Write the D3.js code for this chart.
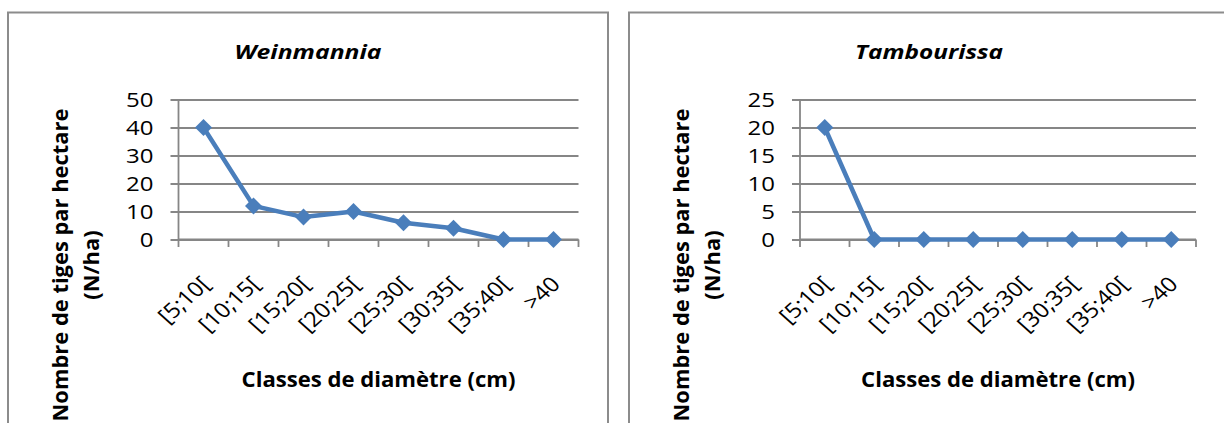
<!DOCTYPE html>
<html>
<head>
<meta charset="utf-8">
<script src="https://cdn.jsdelivr.net/npm/d3@7"></script>
<style>
  html, body { margin: 0; padding: 0; background: #ffffff; }
  svg { display: block; }
  text { font-family: "Open Sans", Lato, "DejaVu Sans", sans-serif; fill: #000; }
</style>
</head>
<body>
<svg id="chart" width="1224" height="423"></svg>
<script>
// ---- data ----
const categories = ["[5;10[", "[10;15[", "[15;20[", "[20;25[", "[25;30[", "[30;35[", "[35;40[", ">40"];
const weinmanniaValues = [40, 12, 8, 10, 6, 4, 0, 0];
const tambourissaValues = [20, 0, 0, 0, 0, 0, 0, 0];
const weinmanniaTicks = [0, 10, 20, 30, 40, 50];
const tambourissaTicks = [0, 5, 10, 15, 20, 25];
const titles = ["Weinmannia", "Tambourissa"];
const xTitle = "Classes de diamètre (cm)";
const yTitleLines = ["Nombre de tiges par hectare", "(N/ha)"];

// ---- layout ----
const svg = d3.select("#chart");
const SX = 1.2;           // horizontal stretch of tick text in the reference
const SXL = 1.12;         // horizontal stretch of rotated category labels
const LINE = "#4a7ebb";
const GRID = "#868686";
const FRAME = "#8c8c8c";

const panels = [
  { frameX: 8,   plotL: 178.5, plotR: 578.5, values: weinmanniaValues,  ticks: weinmanniaTicks,  title: titles[0], titleW: 147 },
  { frameX: 629, plotL: 800,   plotR: 1196,  values: tambourissaValues, ticks: tambourissaTicks, title: titles[1], titleW: 148 }
];
const frameW = 600, frameTop = 12.5;
const plotTop = 99.5, plotBot = 239.5;

function fitX(sel, target) {
  const w = sel.node().getComputedTextLength();
  return target / w;
}

panels.forEach(p => {
  const g = svg.append("g");

  // frame
  g.append("rect")
    .attr("x", p.frameX).attr("y", frameTop)
    .attr("width", frameW).attr("height", 500)
    .attr("fill", "#fff").attr("stroke", FRAME).attr("stroke-width", 2);

  const x = d3.scaleBand().domain(categories).range([p.plotL, p.plotR]).padding(0);
  const y = d3.scaleLinear().domain([0, d3.max(p.ticks)]).range([plotBot, plotTop]);

  // gridlines
  const yAxis = d3.axisLeft(y).tickValues(p.ticks).tickSize(-(p.plotR - p.plotL) - 8).tickFormat("");
  const ya = g.append("g").attr("transform", `translate(${p.plotL - 8},0)`).call(yAxis);
  ya.select(".domain").remove();
  ya.selectAll(".tick line").attr("stroke", GRID).attr("stroke-width", 1.8);

  // y axis vertical line
  g.append("line")
    .attr("x1", p.plotL).attr("x2", p.plotL)
    .attr("y1", y(d3.max(p.ticks))).attr("y2", plotBot)
    .attr("stroke", GRID).attr("stroke-width", 1.8);

  // y tick labels
  g.selectAll(".ylab").data(p.ticks).join("text")
    .attr("class", "ylab")
    .attr("transform", d => `translate(${p.plotL - 25},${y(d)}) scale(${SX},1)`)
    .attr("text-anchor", "end")
    .attr("dy", "0.36em")
    .style("font-size", "20px")
    .text(d => d);

  // x axis with category-boundary ticks
  const bounds = categories.map(c => x(c)).concat([p.plotR]);
  g.append("line")
    .attr("x1", p.plotL).attr("x2", p.plotR)
    .attr("y1", y(0)).attr("y2", y(0))
    .attr("stroke", GRID).attr("stroke-width", 1.8);
  g.selectAll(".xtick").data(bounds).join("line")
    .attr("class", "xtick")
    .attr("x1", d => d).attr("x2", d => d)
    .attr("y1", y(0)).attr("y2", y(0) + 7.5)
    .attr("stroke", GRID).attr("stroke-width", 1.8);

  // x tick labels rotated
  g.selectAll(".xlab").data(categories).join("text")
    .attr("class", "xlab")
    .attr("transform", d => `translate(${x(d) + x.bandwidth() / 2 + 8},${plotBot + 46}) scale(${SXL},1) rotate(-45)`)
    .attr("text-anchor", "end")
    .style("font-size", "21px")
    .text(d => d);

  // series line
  const line = d3.line()
    .x((d, i) => x(categories[i]) + x.bandwidth() / 2)
    .y(d => y(d));
  g.append("path")
    .datum(p.values)
    .attr("d", line)
    .attr("fill", "none")
    .attr("stroke", LINE)
    .attr("stroke-width", 4.5)
    .attr("stroke-linejoin", "round");

  // diamond markers
  g.selectAll(".mk").data(p.values).join("path")
    .attr("class", "mk")
    .attr("transform", (d, i) => `translate(${x(categories[i]) + x.bandwidth() / 2},${y(d)}) rotate(45)`)
    .attr("d", d3.symbol().type(d3.symbolSquare).size(12 * 12)())
    .attr("fill", LINE);

  // title
  const cx = p.frameX + frameW / 2;
  const t = g.append("text")
    .attr("text-anchor", "middle")
    .style("font-size", "20px").style("font-weight", "bold").style("font-style", "italic")
    .text(p.title);
  t.attr("transform", `translate(${cx},59) scale(${fitX(t, p.titleW)},1)`);

  // x axis title
  const xt = g.append("text")
    .attr("text-anchor", "middle")
    .style("font-size", "21px").style("font-weight", "bold")
    .text(xTitle);
  xt.attr("transform", `translate(${(p.plotL + p.plotR) / 2},387) scale(${fitX(xt, 274)},1)`);

  // y axis title (two lines), font sized so the first line spans the reference length
  const probe = g.append("text").style("font-size", "20px").style("font-weight", "bold").text(yTitleLines[0]);
  const fs = 20 * 313 / probe.node().getComputedTextLength();
  probe.remove();
  const yOff = [52, 83];
  yTitleLines.forEach((txt, i) => {
    g.append("text")
      .attr("text-anchor", "middle")
      .attr("dy", "0.35em")
      .attr("transform", `translate(${p.frameX + yOff[i]},265) rotate(-90)`)
      .style("font-size", fs + "px").style("font-weight", "bold")
      .text(txt);
  });
});
</script>
</body>
</html>
